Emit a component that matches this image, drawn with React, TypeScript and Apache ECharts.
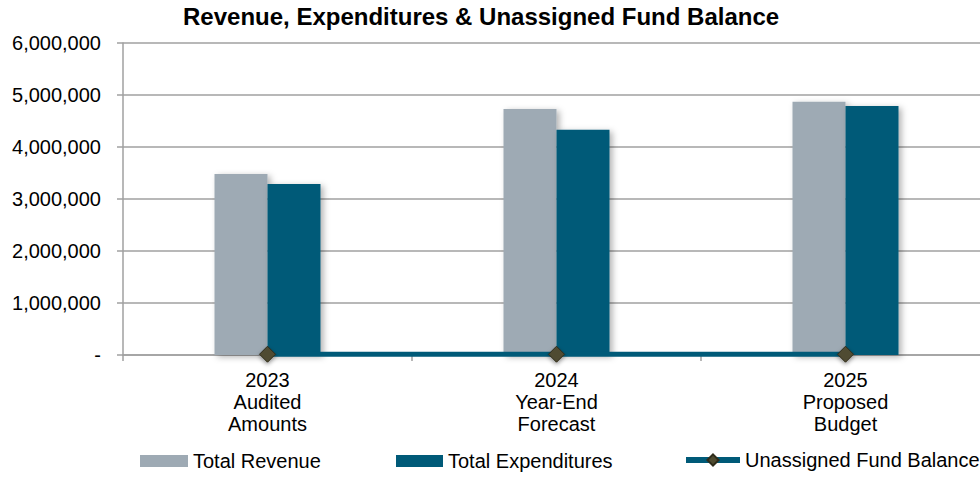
import React, { useEffect, useRef } from "react";
import * as echarts from "echarts";

const categories = ["2023\nAudited\nAmounts", "2024\nYear-End\nForecast", "2025\nProposed\nBudget"];
const totalRevenue = [3480000, 4730000, 4870000];
const totalExpenditures = [3290000, 4330000, 4790000];
const unassignedFundBalance = [15000, 15000, 15000];

const FONT = "'Liberation Sans', Arial, sans-serif";

function fmt(v: number): string {
  if (v === 0) return "-";
  return v.toLocaleString("en-US");
}

export default function App() {
  const ref = useRef<HTMLDivElement>(null);
  useEffect(() => {
    document.body.style.margin = "0";
    if (!ref.current) return;
    const chart = echarts.init(ref.current, undefined, { renderer: "svg" });
    const barShadow = {
      shadowBlur: 6,
      shadowColor: "rgba(0,0,0,0.3)",
      shadowOffsetX: 3,
      shadowOffsetY: 2,
    };
    const legendText = { fontFamily: FONT, fontSize: 20, color: "#000" };
    chart.setOption({
      animation: false,
      backgroundColor: "#ffffff",
      title: {
        text: "Revenue, Expenditures & Unassigned Fund Balance",
        left: 183,
        top: 4,
        padding: 0,
        textStyle: { fontFamily: FONT, fontSize: 24, fontWeight: "bold", color: "#000" },
      },
      legend: [
        {
          left: 140,
          top: 451,
          padding: 0,
          itemWidth: 48,
          itemHeight: 12,
          textStyle: legendText,
          data: [{ name: "Total Revenue", icon: "rect" }],
        },
        {
          left: 396,
          top: 451,
          padding: 0,
          itemWidth: 47,
          itemHeight: 12,
          textStyle: legendText,
          data: [{ name: "Total Expenditures", icon: "rect" }],
        },
        {
          left: 683,
          top: 450,
          padding: 0,
          itemWidth: 54,
          itemHeight: 14,
          textStyle: legendText,
          lineStyle: { width: 6 },
          data: [{ name: "Unassigned Fund Balance" }],
        },
      ],
      grid: {
        left: 123,
        top: 43,
        width: 867,
        height: 312,
        containLabel: false,
        outerBoundsMode: "none",
      },
      xAxis: {
        type: "category",
        data: categories,
        axisLine: { lineStyle: { color: "#a0a0a0", width: 1.5 } },
        axisTick: { show: true, length: 6, lineStyle: { color: "#a0a0a0", width: 1.5 } },
        axisLabel: {
          fontFamily: FONT,
          fontSize: 20,
          color: "#000",
          lineHeight: 22,
          margin: 14,
          interval: 0,
        },
      },
      yAxis: {
        type: "value",
        min: 0,
        max: 6000000,
        interval: 1000000,
        axisLine: { show: true, lineStyle: { color: "#a0a0a0", width: 1.5 } },
        axisTick: { show: true, length: 6, lineStyle: { color: "#a0a0a0", width: 1.5 } },
        splitLine: { lineStyle: { color: "#a0a0a0", width: 1.5 } },
        axisLabel: {
          fontFamily: FONT,
          fontSize: 20,
          color: "#000",
          margin: 22,
          formatter: (v: number) => fmt(v),
        },
      },
      series: [
        {
          name: "Total Revenue",
          type: "bar",
          data: totalRevenue,
          barWidth: 53,
          barGap: "0%",
          itemStyle: { color: "#9eaab4", ...barShadow },
        },
        {
          name: "Total Expenditures",
          type: "bar",
          data: totalExpenditures,
          barWidth: 53,
          barGap: "0%",
          itemStyle: { color: "#005a78", ...barShadow },
        },
        {
          name: "Unassigned Fund Balance",
          type: "line",
          data: unassignedFundBalance,
          symbol: "diamond",
          symbolSize: 16,
          z: 5,
          lineStyle: { color: "#005a78", width: 5 },
          itemStyle: {
            color: "#4f4b30",
            borderColor: "#2f2c1a",
            borderWidth: 1,
            shadowBlur: 4,
            shadowColor: "rgba(0,0,0,0.4)",
            shadowOffsetY: 2,
          },
        },
      ],
    });
    return () => chart.dispose();
  }, []);
  return <div ref={ref} style={{ position: "absolute", left: 0, top: 0, width: 980, height: 478 }} />;
}
